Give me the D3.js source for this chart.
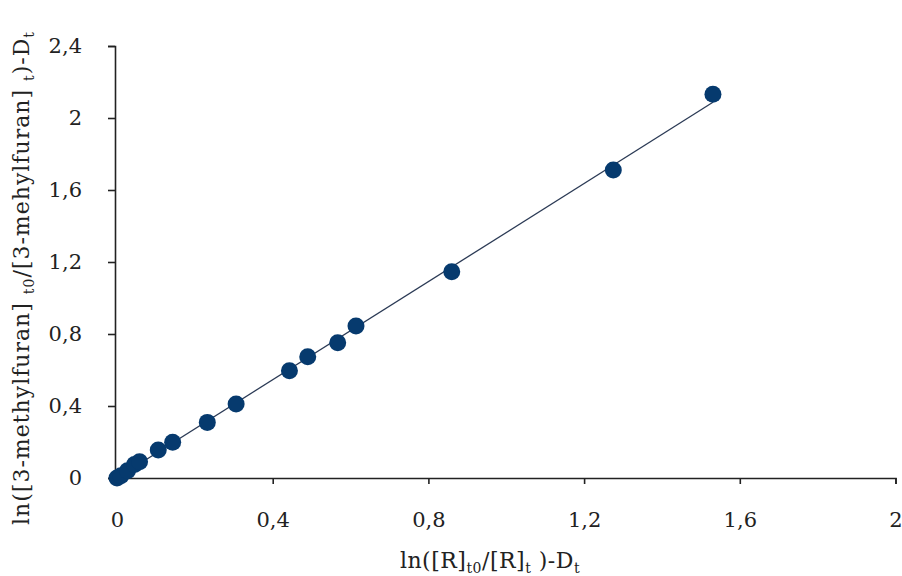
<!DOCTYPE html>
<html>
<head>
<meta charset="utf-8">
<script src="https://cdn.jsdelivr.net/npm/d3@7"></script>
<style>
  body { margin: 0; background: #fff; }
  text { font-family: "DejaVu Serif", serif; fill: #222; }
</style>
</head>
<body>
<svg id="chart" width="902" height="576"></svg>
<script>
// data
let xValues = [0, 0.01, 0.027, 0.045, 0.058, 0.106, 0.143, 0.232, 0.306, 0.443, 0.490, 0.567, 0.614, 0.860, 1.275, 1.531]
let yValues = [0, 0.012, 0.04, 0.075, 0.09, 0.156, 0.199, 0.309, 0.411, 0.596, 0.674, 0.752, 0.844, 1.146, 1.711, 2.132]
let xTicks = [0, 0.4, 0.8, 1.2, 1.6, 2]
let yTicks = [0, 0.4, 0.8, 1.2, 1.6, 2, 2.4]

let svg = d3.select('#chart')

let xScale = d3.scaleLinear().domain([0, 2]).range([117, 895.5])
let yScale = d3.scaleLinear().domain([0, 2.4]).range([478, 46])

let fmt = (d) => String(d).replace('.', ',')

// axes
let xAxis = svg.append('g')
    .attr('transform', 'translate(0,478)')
    .call(d3.axisBottom(xScale).tickValues(xTicks).tickSize(6).tickSizeOuter(6).tickPadding(28).tickFormat(fmt))
let yAxis = svg.append('g')
    .attr('transform', 'translate(115,0)')
    .call(d3.axisLeft(yScale).tickValues(yTicks).tickSize(7).tickSizeOuter(7).tickPadding(26).tickFormat(fmt))

svg.selectAll('.domain').attr('stroke', '#222').attr('stroke-width', 1.6)
svg.selectAll('.tick line').attr('stroke', '#222').attr('stroke-width', 1.6)
svg.selectAll('.tick text').style('font-size', '21px').style('font-family', '"DejaVu Serif", serif').attr('fill', '#222')
xAxis.selectAll('.tick text').attr('dy', '0.71em')

// linear fit
let n = xValues.length
let mx = d3.mean(xValues), my = d3.mean(yValues)
let sxy = 0, sxx = 0
for (let i = 0; i < n; i++) {
    sxy += (xValues[i] - mx) * (yValues[i] - my)
    sxx += (xValues[i] - mx) * (xValues[i] - mx)
}
let slope = sxy / sxx
let intercept = my - slope * mx
let xMin = d3.min(xValues), xMax = d3.max(xValues)

svg.append('line')
    .attr('x1', xScale(xMin)).attr('y1', yScale(intercept + slope * xMin))
    .attr('x2', xScale(xMax)).attr('y2', yScale(intercept + slope * xMax))
    .attr('stroke', '#2b3a55')
    .attr('stroke-width', 1.3)

// points
svg.selectAll('circle')
    .data(xValues.map((x, i) => [x, yValues[i]]))
    .enter()
    .append('circle')
    .attr('cx', (d) => xScale(d[0]))
    .attr('cy', (d) => yScale(d[1]))
    .attr('r', 8.5)
    .attr('fill', '#063a6e')

// axis titles
let xTitle = svg.append('text')
    .attr('x', 490)
    .attr('y', 568)
    .attr('text-anchor', 'middle')
    .style('font-size', '22px')
    .style('letter-spacing', '0.5px')
xTitle.append('tspan').text('ln([R]')
xTitle.append('tspan').text('t0').attr('dy', 5).style('font-size', '14px')
xTitle.append('tspan').text('/[R]').attr('dy', -5)
xTitle.append('tspan').text('t').attr('dy', 5).style('font-size', '14px')
xTitle.append('tspan').text(' )-D').attr('dy', -5)
xTitle.append('tspan').text('t').attr('dy', 5).style('font-size', '14px')

let yTitle = svg.append('text')
    .attr('transform', 'translate(29,278) rotate(-90)')
    .attr('text-anchor', 'middle')
    .style('font-size', '22px')
    .style('letter-spacing', '1px')
yTitle.append('tspan').text('ln([3-methylfuran] ')
yTitle.append('tspan').text('t0').attr('dy', 5).style('font-size', '14px')
yTitle.append('tspan').text('/[3-mehylfuran] ').attr('dy', -5)
yTitle.append('tspan').text('t').attr('dy', 5).style('font-size', '14px')
yTitle.append('tspan').text(')-D').attr('dy', -5)
yTitle.append('tspan').text('t').attr('dy', 5).style('font-size', '14px')
</script>
</body>
</html>
